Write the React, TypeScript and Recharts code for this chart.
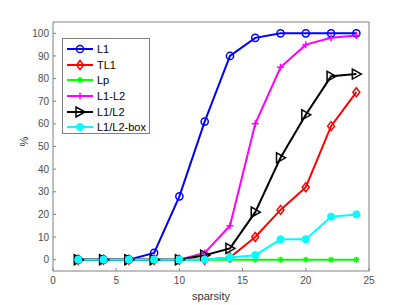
import React from "react";
import { LineChart, Line, XAxis, YAxis, Legend, ReferenceArea } from "recharts";

// sparsity levels on the x axis
const sparsity = [2, 4, 6, 8, 10, 12, 14, 16, 18, 20, 22, 24];

// success rate (%) per method
const l1 = [0, 0, 0, 3, 28, 61, 90, 98, 100, 100, 100, 100];
const tl1 = [0, 0, 0, 0, 0, 0, 1, 10, 22, 32, 59, 74];
const lp = [0, 0, 0, 0, 0, 0, 0, 0, 0, 0, 0, 0];
const l1mL2 = [0, 0, 0, 0, 0, 3, 15, 60, 85, 95, 98, 99];
const l1dL2 = [0, 0, 0, 0, 0, 2, 5, 21, 45, 64, 81, 82];
const l1dL2box = [0, 0, 0, 0, 0, 0, 1, 2, 9, 9, 19, 20];

const xTicks = [0, 5, 10, 15, 20, 25];
const yTicks = [0, 10, 20, 30, 40, 50, 60, 70, 80, 90, 100];

const data = sparsity.map((s, i) => ({
  s,
  l1: l1[i],
  tl1: tl1[i],
  lp: lp[i],
  l1mL2: l1mL2[i],
  l1dL2: l1dL2[i],
  l1dL2box: l1dL2box[i],
}));

type Shape = "circle" | "diamond" | "star" | "plus" | "tri" | "dot";

function Marker({ cx, cy, shape, color }: { cx: number; cy: number; shape: Shape; color: string }) {
  const sw = 1.5;
  switch (shape) {
    case "circle":
      return <circle cx={cx} cy={cy} r={3.6} fill="none" stroke={color} strokeWidth={sw} />;
    case "diamond":
      return (
        <polygon
          points={`${cx},${cy - 4.5} ${cx + 3.5},${cy} ${cx},${cy + 4.5} ${cx - 3.5},${cy}`}
          fill="none"
          stroke={color}
          strokeWidth={sw}
        />
      );
    case "star":
      return (
        <path
          d={`M${cx - 3},${cy}H${cx + 3}M${cx},${cy - 3}V${cy + 3}M${cx - 2.2},${cy - 2.2}L${cx + 2.2},${cy + 2.2}M${cx - 2.2},${cy + 2.2}L${cx + 2.2},${cy - 2.2}`}
          stroke={color}
          strokeWidth={1.3}
        />
      );
    case "plus":
      return <path d={`M${cx - 3.5},${cy}H${cx + 3.5}M${cx},${cy - 3.5}V${cy + 3.5}`} stroke={color} strokeWidth={sw} />;
    case "tri":
      return (
        <polygon
          points={`${cx + 5},${cy} ${cx - 4},${cy - 5} ${cx - 4},${cy + 5}`}
          fill="none"
          stroke={color}
          strokeWidth={sw}
        />
      );
    default:
      return <circle cx={cx} cy={cy} r={3.6} fill={color} stroke={color} strokeWidth={1} />;
  }
}

const series: { key: string; name: string; color: string; shape: Shape }[] = [
  { key: "l1", name: "L1", color: "#0000ff", shape: "circle" },
  { key: "tl1", name: "TL1", color: "#ff0000", shape: "diamond" },
  { key: "lp", name: "Lp", color: "#00ff00", shape: "star" },
  { key: "l1mL2", name: "L1-L2", color: "#ff00ff", shape: "plus" },
  { key: "l1dL2", name: "L1/L2", color: "#000000", shape: "tri" },
  { key: "l1dL2box", name: "L1/L2-box", color: "#00ffff", shape: "dot" },
];

const AXIS = "#808080";
const FONT = "'Liberation Sans', Arial, sans-serif";

function LegendBox() {
  return (
    <div
      style={{
        background: "#fff",
        border: `1px solid ${AXIS}`,
        width: 88,
        padding: "2px 0",
        fontFamily: FONT,
        fontSize: 11,
        color: "#000",
        boxSizing: "border-box",
        height: 96,
      }}
    >
      {series.map((s) => (
        <div key={s.key} style={{ display: "flex", alignItems: "center", height: 15.7 }}>
          <svg width={31} height={12} style={{ marginLeft: 3 }}>
            <line x1={1} y1={6} x2={27} y2={6} stroke={s.color} strokeWidth={2} />
            <Marker cx={14} cy={6} shape={s.shape} color={s.color} />
          </svg>
          <span>{s.name}</span>
        </div>
      ))}
    </div>
  );
}

export default function App() {
  const tick = { fill: "#4d4d4d", fontSize: 10, fontFamily: FONT };
  const tickLine = { stroke: AXIS, strokeWidth: 1 };
  return (
    <div style={{ position: "absolute", left: 0, top: 0, width: 407, height: 305, background: "#fff" }}>
      <LineChart width={407} height={305} data={data} margin={{ top: 22, right: 38, bottom: 4, left: 13 }}>
        <XAxis
          xAxisId="b"
          dataKey="s"
          type="number"
          domain={[0, 25]}
          ticks={xTicks}
          height={30}
          axisLine={false}
          tickLine={tickLine}
          tickSize={-3}
          tickMargin={9}
          tick={tick}
          label={{ value: "sparsity", position: "insideBottom", offset: 1, fill: "#333", fontSize: 11, fontFamily: FONT }}
        />
        <XAxis
          xAxisId="t"
          dataKey="s"
          type="number"
          orientation="top"
          domain={[0, 25]}
          ticks={xTicks}
          height={0}
          axisLine={false}
          tickLine={tickLine}
          tickSize={-3}
          tick={() => <g />}
        />
        <YAxis
          yAxisId="l"
          type="number"
          domain={[-5, 105]}
          ticks={yTicks}
          width={40}
          axisLine={false}
          tickLine={tickLine}
          tickSize={-3}
          tickMargin={7}
          tick={tick}
          label={{ value: "%", angle: -90, position: "insideLeft", offset: 11, fill: "#333", fontSize: 11, fontFamily: FONT }}
        />
        <YAxis
          yAxisId="r"
          type="number"
          orientation="right"
          domain={[-5, 105]}
          ticks={yTicks}
          width={0}
          axisLine={false}
          tickLine={tickLine}
          tickSize={-3}
          tick={() => <g />}
        />
        <ReferenceArea
          xAxisId="b"
          yAxisId="l"
          x1={0}
          x2={25}
          y1={-5}
          y2={105}
          fill="none"
          stroke={AXIS}
          strokeWidth={1}
          ifOverflow="visible"
        />
        <Legend
          layout="vertical"
          verticalAlign="middle"
          align="center"
          content={() => <LegendBox />}
          wrapperStyle={{ left: 62, top: 38, width: 88 }}
        />
        {series.map((s) => (
          <Line
            key={s.key}
            xAxisId="b"
            yAxisId="l"
            dataKey={s.key}
            name={s.name}
            stroke={s.color}
            strokeWidth={2}
            isAnimationActive={false}
            dot={(p: any) => <Marker key={`${s.key}-${p.index}`} cx={p.cx} cy={p.cy} shape={s.shape} color={s.color} />}
            activeDot={false}
          />
        ))}
      </LineChart>
    </div>
  );
}
